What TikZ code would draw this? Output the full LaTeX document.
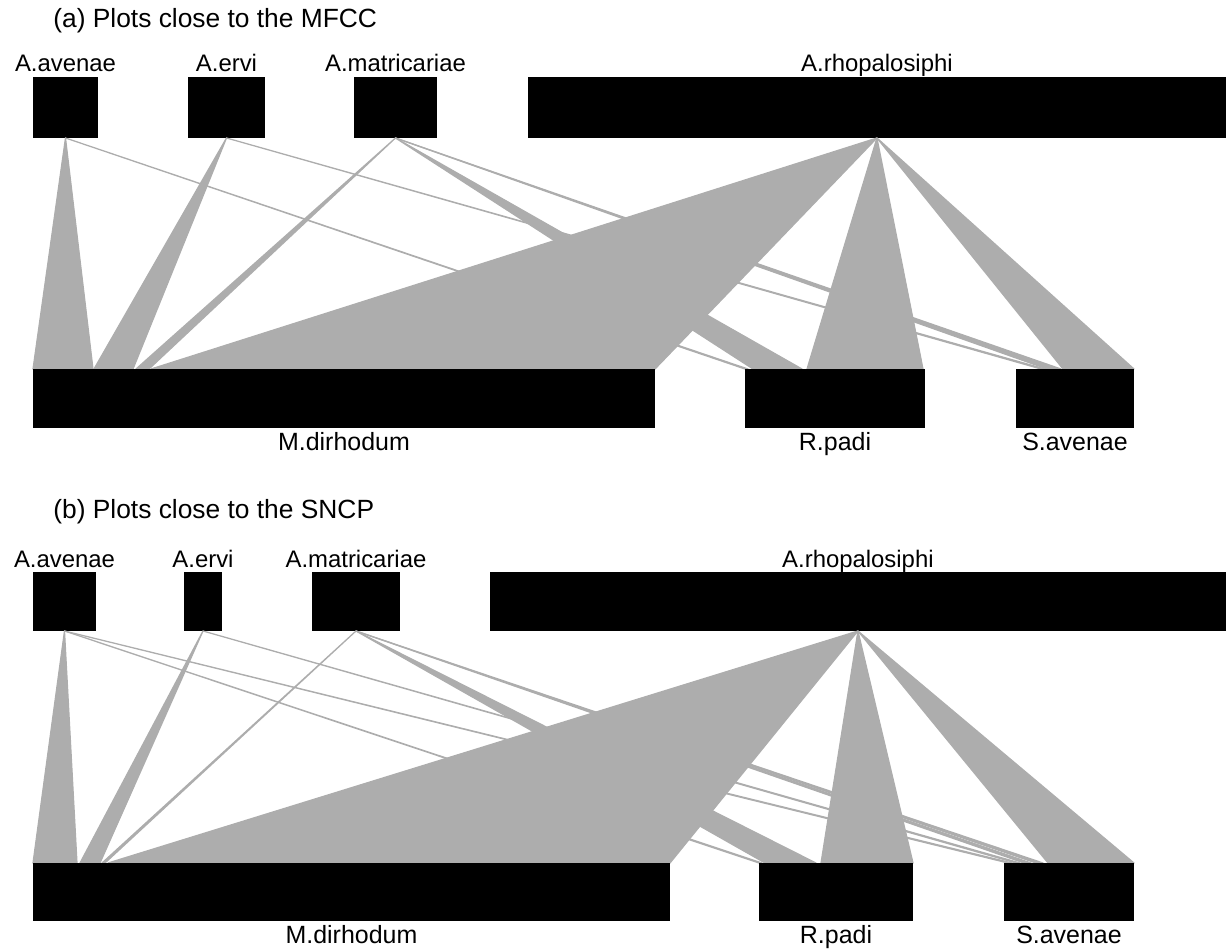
\documentclass[tikz,border=0pt]{standalone}
\usepackage{fontspec}
\setmainfont{Liberation Sans}
\usetikzlibrary{positioning,calc}

\definecolor{linkgrey}{RGB}{173,173,173}
\tikzset{
  box/.style={fill=black, inner sep=0pt, outer sep=0pt, anchor=north west},
  link/.style={fill=linkgrey, draw=linkgrey, line width=0.7pt, line join=round},
  toplab/.style={inner sep=0pt, anchor=base, font=\fontsize{13.6}{16}\selectfont},
  botlab/.style={inner sep=0pt, anchor=base, font=\fontsize{14.2}{17}\selectfont},
  paneltitle/.style={inner sep=0pt, anchor=base west, font=\fontsize{15}{18}\selectfont}
}

\begin{document}
\begin{tikzpicture}[x=0.02cm, y=-0.02cm]
    \useasboundingbox (0,0) rectangle (1229,952);

    % (a) plots close to the MFCC
    \node[paneltitle] (titleA) at (53,28) {(a) Plots close to the MFCC};

    \coordinate (mdiAnw) at (33,369);
    \coordinate (rpaAnw) at (745,369);
    \coordinate (savAnw) at (1016,369);

    \node[box, minimum width=1.30cm, minimum height=1.22cm] (aavA) at (33,77) {};
    \node[box, minimum width=1.54cm, minimum height=1.22cm] (aerA) at (188,77) {};
    \node[box, minimum width=1.66cm, minimum height=1.22cm] (amaA) at (354,77) {};
    \node[box, minimum width=13.96cm, minimum height=1.22cm] (arhA) at (528,77) {};

    % links to M.dirhodum
    \fill[link] (aavA.south) -- ($(mdiAnw)+(0,0)$) -- ($(mdiAnw)+(60,0)$) -- cycle;
    \fill[link] (aerA.south) -- ($(mdiAnw)+(61,0)$) -- ($(mdiAnw)+(100,0)$) -- cycle;
    \fill[link] (amaA.south) -- ($(mdiAnw)+(103,0)$) -- ($(mdiAnw)+(116,0)$) -- cycle;
    \fill[link] (arhA.south) -- ($(mdiAnw)+(118,0)$) -- ($(mdiAnw)+(622,0)$) -- cycle;
    % links to R.padi
    \fill[link] (aavA.south) -- ($(rpaAnw)+(0,0)$) -- ($(rpaAnw)+(3,0)$) -- cycle;
    \fill[link] (amaA.south) -- ($(rpaAnw)+(8,0)$) -- ($(rpaAnw)+(57,0)$) -- cycle;
    \fill[link] (arhA.south) -- ($(rpaAnw)+(62,0)$) -- ($(rpaAnw)+(178,0)$) -- cycle;
    % links to S.avenae
    \fill[link] (aerA.south) -- ($(savAnw)+(25,0)$) -- ($(savAnw)+(29,0)$) -- cycle;
    \fill[link] (amaA.south) -- ($(savAnw)+(31,0)$) -- ($(savAnw)+(37,0)$) -- cycle;
    \fill[link] (amaA.south) -- ($(savAnw)+(39,0)$) -- ($(savAnw)+(45,0)$) -- cycle;
    \fill[link] (arhA.south) -- ($(savAnw)+(47,0)$) -- ($(savAnw)+(118,0)$) -- cycle;

    \node[box, minimum width=12.44cm, minimum height=1.18cm] (mdiA) at (mdiAnw) {};
    \node[box, minimum width=3.60cm, minimum height=1.18cm] (rpaA) at (rpaAnw) {};
    \node[box, minimum width=2.36cm, minimum height=1.18cm] (savA) at (savAnw) {};

    \node[toplab, above=0.1cm of aavA, anchor=base] (aavAlab) {A.avenae};
    \node[toplab, above=0.1cm of aerA, anchor=base] (aerAlab) {A.ervi};
    \node[toplab, above=0.1cm of amaA, anchor=base] (amaAlab) {A.matricariae};
    \node[toplab, above=0.1cm of arhA, anchor=base] (arhAlab) {A.rhopalosiphi};

    \node[botlab, below=0.46cm of mdiA, anchor=base] (mdiAlab) {M.dirhodum};
    \node[botlab, below=0.46cm of rpaA, anchor=base] (rpaAlab) {R.padi};
    \node[botlab, below=0.46cm of savA, anchor=base] (savAlab) {S.avenae};

    % (b) plots close to the SNCP
    \node[paneltitle] (titleB) at (53,518) {(b) Plots close to the SNCP};

    \coordinate (mdiBnw) at (33,863);
    \coordinate (rpaBnw) at (759,863);
    \coordinate (savBnw) at (1004,863);

    \node[box, minimum width=1.26cm, minimum height=1.18cm] (aavB) at (33,572) {};
    \node[box, minimum width=0.76cm, minimum height=1.18cm] (aerB) at (184,572) {};
    \node[box, minimum width=1.76cm, minimum height=1.18cm] (amaB) at (312,572) {};
    \node[box, minimum width=14.72cm, minimum height=1.18cm] (arhB) at (490,572) {};

    % links to M.dirhodum
    \fill[link] (aavB.south) -- ($(mdiBnw)+(0,0)$) -- ($(mdiBnw)+(44,0)$) -- cycle;
    \fill[link] (aerB.south) -- ($(mdiBnw)+(47,0)$) -- ($(mdiBnw)+(67,0)$) -- cycle;
    \fill[link] (amaB.south) -- ($(mdiBnw)+(69,0)$) -- ($(mdiBnw)+(72,0)$) -- cycle;
    \fill[link] (arhB.south) -- ($(mdiBnw)+(75,0)$) -- ($(mdiBnw)+(637,0)$) -- cycle;
    % links to R.padi
    \fill[link] (aavB.south) -- ($(rpaBnw)+(0,0)$) -- ($(rpaBnw)+(3,0)$) -- cycle;
    \fill[link] (amaB.south) -- ($(rpaBnw)+(6,0)$) -- ($(rpaBnw)+(57,0)$) -- cycle;
    \fill[link] (arhB.south) -- ($(rpaBnw)+(62,0)$) -- ($(rpaBnw)+(154,0)$) -- cycle;
    % links to S.avenae
    \fill[link] (aavB.south) -- ($(savBnw)+(4,0)$) -- ($(savBnw)+(8,0)$) -- cycle;
    \fill[link] (aerB.south) -- ($(savBnw)+(12,0)$) -- ($(savBnw)+(16,0)$) -- cycle;
    \fill[link] (amaB.south) -- ($(savBnw)+(20,0)$) -- ($(savBnw)+(27,0)$) -- cycle;
    \fill[link] (amaB.south) -- ($(savBnw)+(32,0)$) -- ($(savBnw)+(39,0)$) -- cycle;
    \fill[link] (arhB.south) -- ($(savBnw)+(44,0)$) -- ($(savBnw)+(130,0)$) -- cycle;

    \node[box, minimum width=12.74cm, minimum height=1.16cm] (mdiB) at (mdiBnw) {};
    \node[box, minimum width=3.08cm, minimum height=1.16cm] (rpaB) at (rpaBnw) {};
    \node[box, minimum width=2.60cm, minimum height=1.16cm] (savB) at (savBnw) {};

    \node[toplab, above=0.1cm of aavB, anchor=base] (aavBlab) {A.avenae};
    \node[toplab, above=0.1cm of aerB, anchor=base] (aerBlab) {A.ervi};
    \node[toplab, above=0.1cm of amaB, anchor=base] (amaBlab) {A.matricariae};
    \node[toplab, above=0.1cm of arhB, anchor=base] (arhBlab) {A.rhopalosiphi};

    \node[botlab, below=0.46cm of mdiB, anchor=base] (mdiBlab) {M.dirhodum};
    \node[botlab, below=0.46cm of rpaB, anchor=base] (rpaBlab) {R.padi};
    \node[botlab, below=0.46cm of savB, anchor=base] (savBlab) {S.avenae};

\end{tikzpicture}
\end{document}
